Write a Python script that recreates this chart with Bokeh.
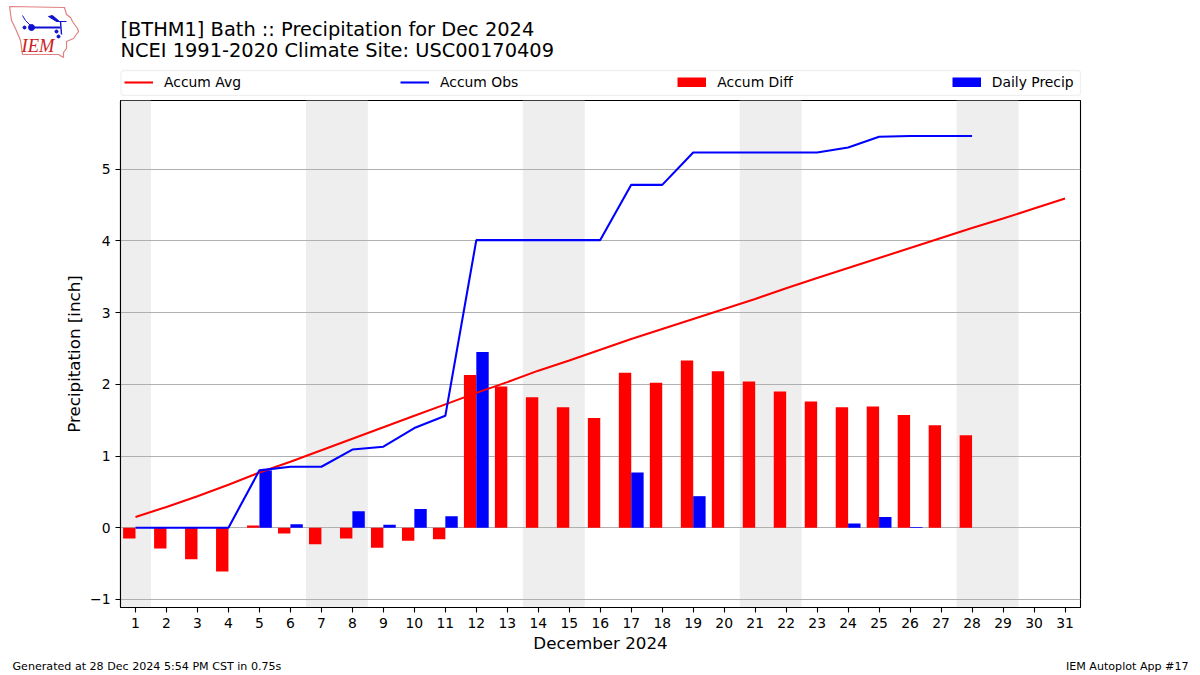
from bokeh.plotting import figure
from bokeh.embed import file_html
from bokeh.resources import INLINE
from bokeh.core.properties import value
from bokeh.models import Legend, LegendItem, FixedTicker, Range1d, BoxAnnotation, ColumnDataSource

days = list(range(1, 32))
accum_avg = [.15,.29,.44,.60,.77,.92,1.08,1.24,1.40,1.56,1.72,1.88,2.03,2.19,2.33,2.48,2.63,2.77,2.91,3.05,3.19,3.34,3.48,3.62,3.76,3.90,4.04,4.18,4.31,4.45,4.59]
obs_days = list(range(1, 29))
accum_obs = [0,0,0,0,.80,.85,.85,1.09,1.13,1.39,1.56,4.01,4.01,4.01,4.01,4.01,4.78,4.78,5.23,5.23,5.23,5.23,5.23,5.30,5.45,5.46,5.46,5.46]
accum_diff = [-.15,-.29,-.44,-.61,.03,-.08,-.23,-.15,-.28,-.18,-.16,2.13,1.97,1.82,1.68,1.53,2.16,2.02,2.33,2.18,2.04,1.90,1.76,1.68,1.69,1.57,1.43,1.29]
daily = [0,0,0,0,.80,.05,0,.23,.04,.26,.16,2.45,0,0,0,0,.77,0,.44,0,0,0,0,.06,.15,.01,0,0]
weekend_left = [0.5, 6.5, 13.5, 20.5, 27.5]
weekend_right = [1.5, 8.5, 15.5, 22.5, 29.5]
y_ticks = [-1, 0, 1, 2, 3, 4, 5]
title_1 = "[BTHM1] Bath :: Precipitation for Dec 2024"
title_2 = "NCEI 1991-2020 Climate Site: USC00170409"
foot_left = "Generated at 28 Dec 2024 5:54 PM CST in 0.75s"
foot_right = "IEM Autoplot App #17"
legend_labels = ["Accum Avg", "Accum Obs", "Accum Diff", "Daily Precip"]
F = "DejaVu Sans"
BAR_W = 0.4
Y_MIN, Y_MAX = -1.112, 5.956


def strip(height, y_top):
    s = figure(width=1200, height=height, output_backend="svg", toolbar_location=None, tools="",
               x_range=Range1d(0, 1200), y_range=Range1d(y_top + height, y_top),
               x_axis_type=None, y_axis_type=None,
               min_border_left=0, min_border_right=0, min_border_top=0, min_border_bottom=0)
    s.outline_line_color = None
    s.grid.visible = False
    return s


def txt(s, x, y, t, size, align="left", color="black", font=F, style="normal"):
    s.text([x], [y], text=[t], text_font=value(font), text_font_size=size, text_align=align,
           text_baseline="middle", text_color=color, text_font_style=style)


# header strip: logo, titles, legend
head = strip(96, 0)
txt(head, 120, 29, title_1, "19.4px")
txt(head, 120, 50, title_2, "19.4px")

head.add_layout(BoxAnnotation(left=120.5, right=1080, top=70, bottom=95, fill_color="white", fill_alpha=1,
                              line_color="#cccccc", line_width=1.3, border_radius=3, level="underlay"))
# legend keys: renderers lying outside the strip's range, so only the key shows
h_avg = head.line([-20, -10], [-20, -10], color="red", line_width=2.08)
h_obs = head.line([-20, -10], [-20, -10], color="blue", line_width=2.08)
h_diff = head.line([-20, -10], [-20, -10], color="red", line_width=10)
h_daily = head.line([-20, -10], [-20, -10], color="blue", line_width=10)
leg = Legend(items=[LegendItem(label=l, renderers=[r]) for l, r in zip(legend_labels, [h_avg, h_obs, h_diff, h_daily])],
             orientation="horizontal", location=(124, 6), spacing=159,
             glyph_width=29, glyph_height=10, label_standoff=11,
             label_text_font=F, label_text_font_size="13.9px", label_text_color="black",
             border_line_color=None, background_fill_alpha=0, padding=5, margin=0)
head.add_layout(leg, "center")

# logo
outline_x = [9, 64, 66, 70, 72, 77, 78, 73, 66, 66, 63, 63, 58, 22, 20, 15, 11, 9]
outline_y = [6, 7, 14, 17, 21, 28, 31, 38, 41, 48, 52, 57, 54, 54, 40, 28, 20, 6]
head.line(outline_x, outline_y, color="#e08080", line_width=1.2)
head.line([31, 60], [27, 27], color="#1010d0", line_width=1.8)
head.line([22, 25, 31], [15, 20, 26], color="#1010d0", line_width=1)
head.line([60, 61], [21, 34], color="#1010d0", line_width=1.4)
head.line([56, 66], [21, 21], color="#1010d0", line_width=1.2)
head.patch([48, 52, 59, 56], [16, 15, 21, 21], color="#1010d0")
head.scatter([31], [27], size=6, color="#1010d0")
head.scatter([24, 56, 58], [27, 31, 36], size=3, color="#1010d0")
txt(head, 21, 45, "IEM", "18.5px", color="#cc2020", font="Liberation Serif", style="italic")

# main chart
p = figure(width=1200, height=559, output_backend="svg", toolbar_location=None, tools="",
           x_range=Range1d(0.516, 31.5), y_range=Range1d(Y_MIN, Y_MAX),
           min_border_left=120, min_border_right=120, min_border_top=4, min_border_bottom=46)
p.outline_line_color = "black"
p.outline_line_width = 1.1
p.xgrid.visible = False
p.ygrid.grid_line_color = "#b0b0b0"
p.ygrid.grid_line_width = 1.1
p.ygrid.ticker = FixedTicker(ticks=y_ticks)
for ax, tk in ((p.xaxis[0], days), (p.yaxis[0], y_ticks)):
    ax.ticker = FixedTicker(ticks=tk)
    ax.minor_tick_line_color = None
    ax.major_tick_in = 0
    ax.major_tick_out = 5
    ax.major_tick_line_width = 1.1
    ax.axis_line_width = 1.1
    ax.major_label_text_font = F
    ax.major_label_text_font_size = "13.9px"
    ax.major_label_text_color = "black"
    ax.axis_label_text_font = F
    ax.axis_label_text_font_size = "16.7px"
    ax.axis_label_text_font_style = "normal"
    ax.axis_label_text_color = "black"
p.xaxis.axis_label = "December 2024"
p.yaxis.axis_label = "Precipitation [inch]"
p.xaxis.axis_label_standoff = 2
p.xaxis.major_label_standoff = 5
p.yaxis.axis_label_standoff = 3

p.quad(left=weekend_left, right=weekend_right, bottom=Y_MIN, top=Y_MAX, color="#eeeeee", line_color=None, level="image")
src = ColumnDataSource(dict(diff=accum_diff, daily=daily,
                            dl=[d - BAR_W for d in obs_days], dr=obs_days,
                            bl=obs_days, br=[d + BAR_W for d in obs_days]))
p.quad(left="dl", right="dr", bottom=0, top="diff", source=src, color="red", line_color=None)
p.quad(left="bl", right="br", bottom=0, top="daily", source=src, color="blue", line_color=None)
p.line(days, accum_avg, color="red", line_width=2.08)
p.line(obs_days, accum_obs, color="blue", line_width=2.08)

# footer strip
foot = strip(20, 655)
txt(foot, 12, 666, foot_left, "11.1px")
txt(foot, 1188, 666, foot_right, "11.1px", align="right")

open("out.html", "w").write(file_html([head, p, foot], INLINE))
